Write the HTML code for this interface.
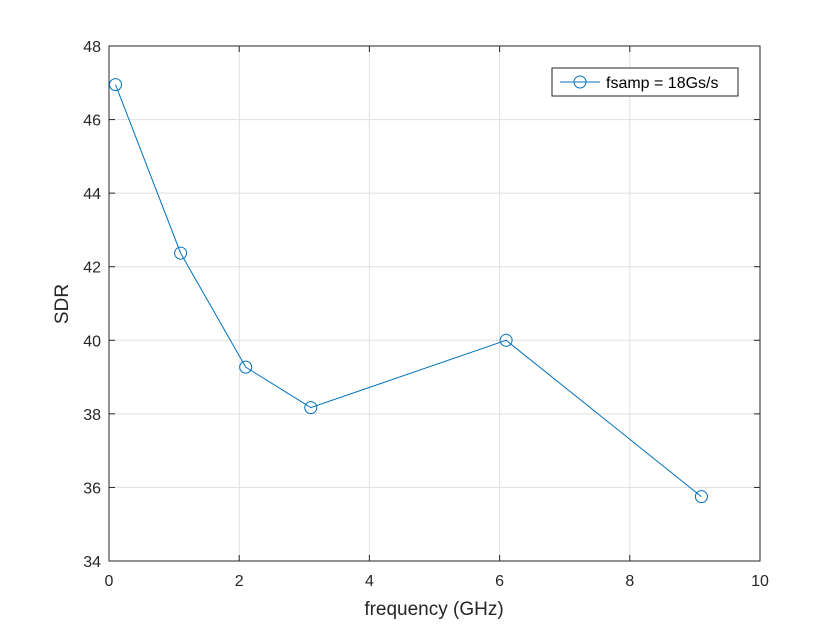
<!DOCTYPE html>
<html><head><meta charset="utf-8"><style>
body{margin:0;background:#fff;}
svg{display:block;font-family:"Liberation Sans",sans-serif;}
</style></head><body>
<svg id="chart" width="840" height="630" viewBox="0 0 840 630">
<rect x="0" y="0" width="840" height="630" fill="#fff"/>
<rect x="109" y="46" width="651" height="515" fill="#fff"/>
<g id="grid"></g>
<g id="ticks"></g>
<rect x="109" y="46" width="651" height="515" fill="none" stroke="#262626" stroke-width="1"/>
<g id="series"></g>
<text x="434" y="615" font-size="19" fill="#262626" text-anchor="middle">frequency (GHz)</text>
<text x="68" y="304" font-size="19" fill="#262626" text-anchor="middle" transform="rotate(-90 68 304)">SDR</text>
<g>
<rect x="552" y="68" width="186" height="28" fill="#fff" stroke="#262626" stroke-width="1"/>
<line x1="560" y1="82" x2="600" y2="82" stroke="#0072BD" stroke-width="1"/>
<circle cx="580" cy="82" r="6" fill="none" stroke="#0072BD" stroke-width="1"/>
<text x="606" y="88" font-size="16" fill="#000">fsamp = 18Gs/s</text>
</g>
</svg>
<script>
const xVals=[0.1,1.1,2.1,3.1,6.1,9.1];
const yVals=[46.95,42.37,39.27,38.17,40.0,35.75];
const xTicks=[0,2,4,6,8,10];
const yTicks=[34,36,38,40,42,44,46,48];
const X0=109,X1=760,Y0=561,Y1=46,xMin=0,xMax=10,yMin=34,yMax=48;
function sx(v){return X0+(v-xMin)/(xMax-xMin)*(X1-X0);}
function sy(v){return Y0-(v-yMin)/(yMax-yMin)*(Y0-Y1);}
const NS="http://www.w3.org/2000/svg";
function mk(t,a,p){const e=document.createElementNS(NS,t);for(const k in a)e.setAttribute(k,a[k]);p.appendChild(e);return e;}
const grid=document.getElementById('grid'),ticks=document.getElementById('ticks'),ser=document.getElementById('series');
xTicks.forEach(t=>{const x=sx(t);
 const g=mk('line',{x1:x,x2:x,y1:Y1,y2:Y0,stroke:'#dfdfdf','stroke-width':1},grid);
 
 
 mk('line',{x1:x,x2:x,y1:Y0,y2:Y0-6,stroke:'#262626'},ticks);
 mk('line',{x1:x,x2:x,y1:Y1,y2:Y1+6,stroke:'#262626'},ticks);
 const l=mk('text',{x:x,y:Y0+25,'font-size':16,fill:'#262626','text-anchor':'middle'},ticks);l.textContent=t;
 
 
});
yTicks.forEach(t=>{const y=sy(t);
 const g=mk('line',{x1:X0,x2:X1,y1:y,y2:y,stroke:'#dfdfdf','stroke-width':1},grid);
 
 
 mk('line',{x1:X0,x2:X0+6,y1:y,y2:y,stroke:'#262626'},ticks);
 mk('line',{x1:X1,x2:X1-6,y1:y,y2:y,stroke:'#262626'},ticks);
 const l=mk('text',{x:X0-8,y:y+6,'font-size':16,fill:'#262626','text-anchor':'end'},ticks);l.textContent=t;
 
 
});
const pts=xVals.map((v,i)=>sx(v)+','+sy(yVals[i])).join(' ');
const pl=mk('polyline',{points:pts,fill:'none',stroke:'#0072BD','stroke-width':1},ser);


xVals.forEach((v,i)=>{const c=mk('circle',{cx:sx(v),cy:sy(yVals[i]),r:6,fill:'none',stroke:'#0072BD','stroke-width':1},ser);
 
 
});
</script>
</body></html>
